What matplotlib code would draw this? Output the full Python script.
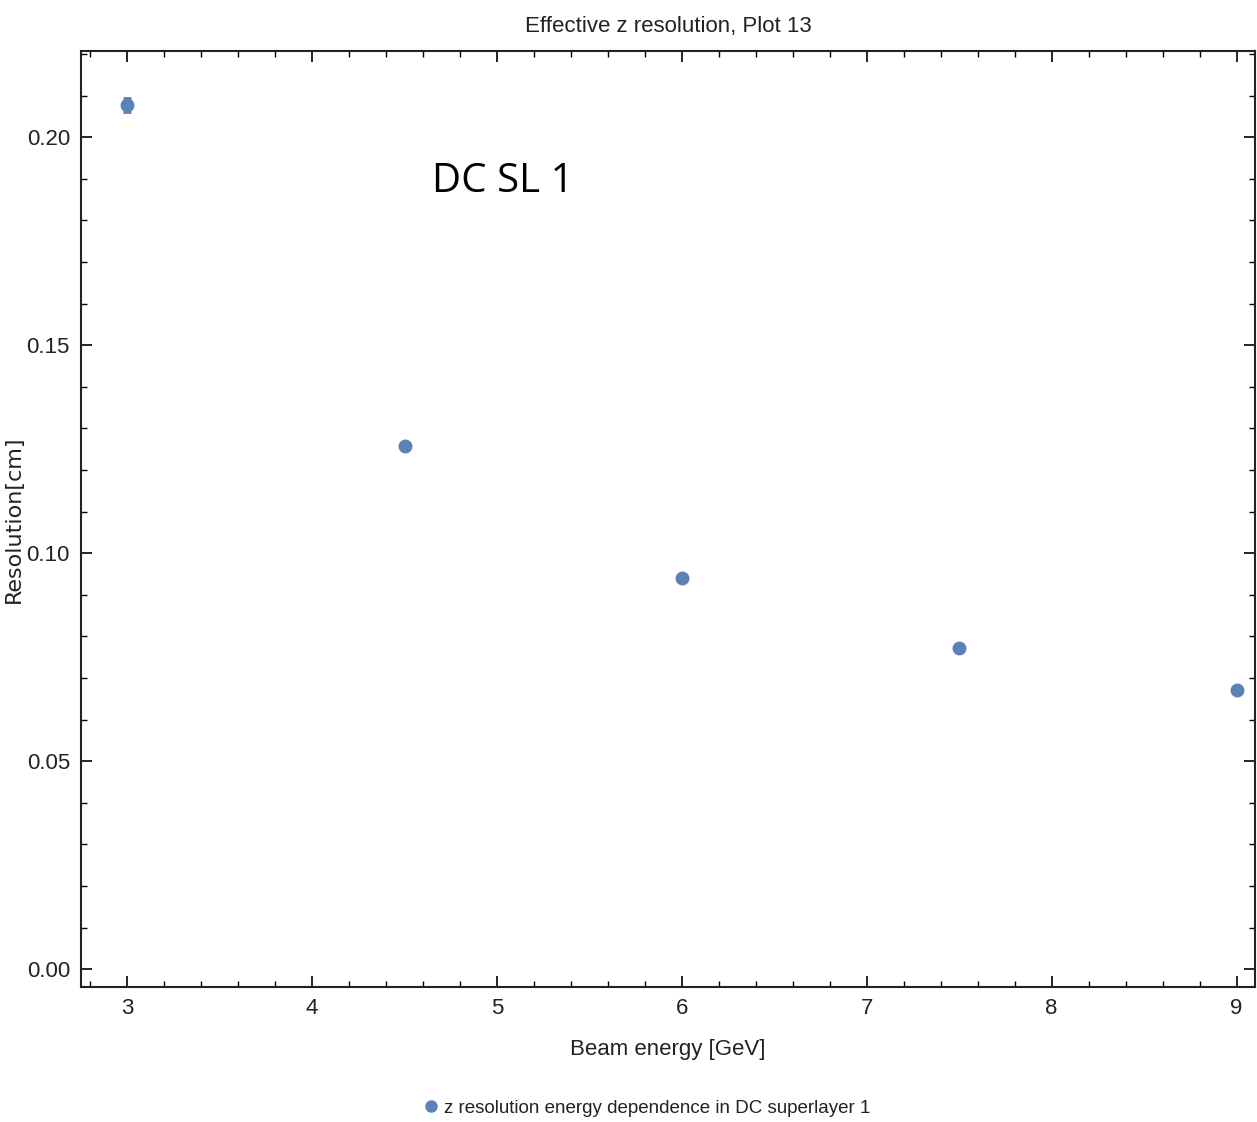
import matplotlib
matplotlib.use("Agg")
import matplotlib.pyplot as plt
from matplotlib.ticker import MultipleLocator

energies = [3.0, 4.5, 6.0, 7.5, 9.0]
resolution = [0.2077, 0.1257, 0.0940, 0.0773, 0.0671]
errors = [0.0017, 0.0008, 0.0006, 0.0006, 0.0006]
xticks = [3, 4, 5, 6, 7, 8, 9]
yticks = [0.00, 0.05, 0.10, 0.15, 0.20]

font = "Liberation Sans"
color = "#5E81B5"
fig = plt.figure(figsize=(12.57, 11.22), dpi=100)
ax = fig.add_axes([81/1257, (1122-987)/1122, (1255-81)/1257, (987-51)/1122])

ax.errorbar(energies, resolution, yerr=errors, fmt="o", color=color, ms=9,
            elinewidth=2, capsize=3, capthick=2,
            label="z resolution energy dependence in DC superlayer 1")

ax.set_xlim(2.75, 9.1)
ax.set_ylim(-0.0043, 0.2207)
ax.set_xticks(xticks)
ax.set_yticks(yticks)
ax.set_yticklabels([f"{v:.2f}" for v in yticks])
ax.xaxis.set_minor_locator(MultipleLocator(0.2))
ax.yaxis.set_minor_locator(MultipleLocator(0.01))
ax.tick_params(which="both", direction="in", top=True, right=True, labeltop=False, labelright=False)
ax.tick_params(which="major", length=8, width=1.2, labelsize=16, pad=8, labelcolor="#222222")
ax.tick_params(which="minor", length=4, width=1.0)
for lab in ax.get_xticklabels() + ax.get_yticklabels():
    lab.set_family(font)
for s in ax.spines.values():
    s.set_linewidth(1.5)
    s.set_color("#222222")

ax.set_title("Effective z resolution, Plot 13", fontsize=16, family=font, pad=14, color="#222222")
ax.set_xlabel("Beam energy [GeV]", fontsize=16, family=font, labelpad=14, color="#222222")
ax.set_ylabel("Resolution[cm]", fontsize=16, family="DejaVu Sans", color="#222222")
ax.yaxis.set_label_coords((24 - 81) / 1174, 0.5)

fig.text(432/1257, 1 - 182/1122, "DC SL 1", fontsize=29, family="Open Sans", va="center", ha="left")

fig.legend(handles=[plt.Line2D([], [], ls="none", marker="o", color=color, ms=8)],
           labels=["z resolution energy dependence in DC superlayer 1"],
           loc="center", bbox_to_anchor=(645/1257, 1 - 1108/1122), frameon=False,
           prop={"family": font, "size": 13.5}, handletextpad=0.1, handlelength=1.2,
           labelcolor="#222222")

fig.savefig("out.png", dpi=100)
